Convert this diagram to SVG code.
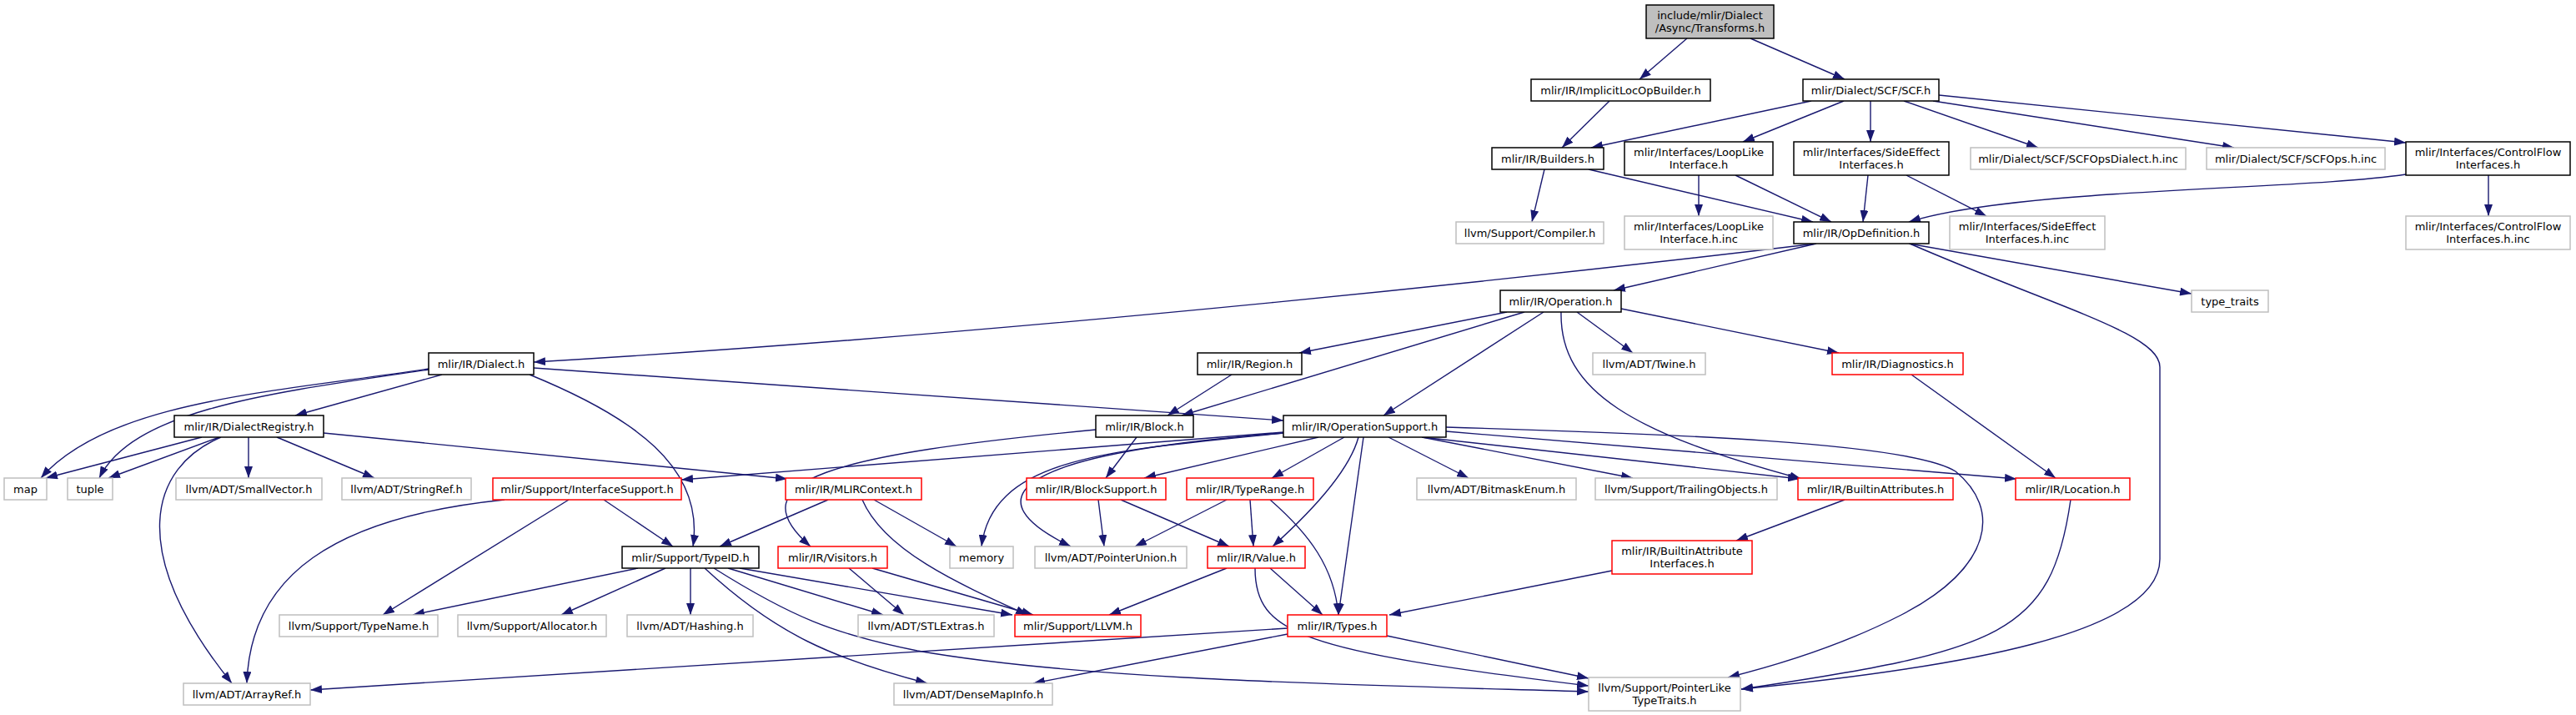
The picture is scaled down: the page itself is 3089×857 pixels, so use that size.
<svg xmlns="http://www.w3.org/2000/svg" width="3089" height="857" viewBox="0 0 3089 857">
<style>
rect{fill:#fff;stroke-width:1.5}
.k rect{stroke:#000}
.g rect{stroke:#bfbfbf}
.r rect{stroke:#ff0000}
.top rect{fill:#bfbfbf;stroke:#000}
text{font-family:"DejaVu Sans","Liberation Sans",sans-serif;font-size:13px;fill:#000;text-anchor:middle}
#edges path{fill:none;stroke:#191970;stroke-width:1.4;marker-end:url(#a)}
</style>
<defs>
<marker id="a" viewBox="0 0 14 10" refX="14" refY="5" markerWidth="14" markerHeight="10" orient="auto" markerUnits="userSpaceOnUse"><path d="M0,0 L14,5 L0,10 z" fill="#191970"/></marker>
</defs>
<rect x="0" y="0" width="3089" height="857" style="fill:#fff;stroke:none"/>
<g id="edges">
<path d="M2023,46 L1966,95"/>
<path d="M2099,46 L2212,95"/>
<path d="M1930,121 L1873,177"/>
<path d="M2172,121 L1908,177"/>
<path d="M2211,121 L2090,170"/>
<path d="M2243,121 L2243,170"/>
<path d="M2283,121 L2444,177"/>
<path d="M2318,121 L2679,177"/>
<path d="M2325,114 L2885,171"/>
<path d="M1852,203 L1837,266"/>
<path d="M1905,203 L2174,266"/>
<path d="M2037,210 L2037,259"/>
<path d="M2081,210 L2196,266"/>
<path d="M2240,210 L2234,266"/>
<path d="M2286,210 L2382,259"/>
<path d="M2885,209 C2760,228 2420,225 2289,266"/>
<path d="M2984,210 L2984,259"/>
<path d="M2178,292 L1935,348"/>
<path d="M2178,292 C1900,325 1250,398 640,434"/>
<path d="M2289,292 L2628,352"/>
<path d="M2290,292 C2470,370 2590,400 2590,440 L2590,670 C2590,760 2350,800 2088,826"/>
<path d="M1807,374 L1558,423"/>
<path d="M1828,374 L1417,498"/>
<path d="M1851,374 L1659,498"/>
<path d="M1891,374 L1958,423"/>
<path d="M1944,370 L2205,423"/>
<path d="M1872,374 C1870,470 1960,520 2160,574"/>
<path d="M1705,524 L2158,574"/>
<path d="M1734,517 L2418,574"/>
<path d="M1734,512 C2000,520 2290,530 2345,565 C2400,610 2390,680 2280,737 C2200,778 2120,800 2072,812"/>
<path d="M1705,524 L1958,573"/>
<path d="M1665,524 L1761,573"/>
<path d="M1629,524 Q1615,575 1526,655"/>
<path d="M1635,524 L1605,737"/>
<path d="M1612,524 L1525,573"/>
<path d="M1581,524 L1372,573"/>
<path d="M1539,518 L817,575"/>
<path d="M1539,519 C1330,540 1190,548 1177,655"/>
<path d="M1539,519 C1200,545 1170,600 1284,655"/>
<path d="M640,441 L1539,504"/>
<path d="M530,449 L354,498"/>
<path d="M514,442 C330,470 130,480 49,573"/>
<path d="M514,443 C330,470 160,490 119,573"/>
<path d="M635,449 C760,500 845,560 831,655"/>
<path d="M242,524 L55,573"/>
<path d="M263,524 L130,573"/>
<path d="M265,524 C180,560 150,660 278,819"/>
<path d="M298,524 L298,573"/>
<path d="M332,524 L449,573"/>
<path d="M388,519 L944,574"/>
<path d="M1477,449 L1400,498"/>
<path d="M1363,524 L1326,573"/>
<path d="M1314,515 C1000,545 880,575 972,655"/>
<path d="M605,599 C400,620 300,690 296,819"/>
<path d="M682,599 L459,737"/>
<path d="M724,599 L807,655"/>
<path d="M993,599 L863,655"/>
<path d="M1048,599 L1147,655"/>
<path d="M1034,599 C1060,660 1150,700 1232,737"/>
<path d="M1018,681 L1084,737"/>
<path d="M1046,681 L1239,737"/>
<path d="M765,681 L495,737"/>
<path d="M798,681 L673,737"/>
<path d="M828,681 L828,737"/>
<path d="M873,681 L1059,737"/>
<path d="M887,681 L1214,737"/>
<path d="M845,681 C930,760 1000,790 1112,819"/>
<path d="M856,681 C950,740 1000,760 1100,780 C1300,815 1600,820 1905,829"/>
<path d="M1317,599 L1324,655"/>
<path d="M1344,599 L1474,655"/>
<path d="M1471,599 L1361,655"/>
<path d="M1499,599 L1503,655"/>
<path d="M1523,599 C1570,640 1600,680 1605,737"/>
<path d="M1471,681 L1330,737"/>
<path d="M1523,681 L1586,737"/>
<path d="M1505,681 C1505,760 1560,780 1905,822"/>
<path d="M1933,684 L1666,737"/>
<path d="M2212,599 L2082,648"/>
<path d="M1544,753 L372,827"/>
<path d="M1544,760 L1239,819"/>
<path d="M1663,762 L1905,813"/>
<path d="M2292,449 L2465,573"/>
<path d="M2483,599 C2460,760 2400,780 2088,826"/>
</g>
<g id="n0" class="top"><rect x="1974" y="6" width="153" height="40"/><text x="2050.5" y="23">include/mlir/Dialect</text><text x="2050.5" y="38">/Async/Transforms.h</text></g>
<g id="n1" class="k"><rect x="1836" y="95" width="215" height="26"/><text x="1943.5" y="112.5">mlir/IR/ImplicitLocOpBuilder.h</text></g>
<g id="n2" class="k"><rect x="2162" y="95" width="163" height="26"/><text x="2243.5" y="112.5">mlir/Dialect/SCF/SCF.h</text></g>
<g id="n3" class="k"><rect x="1789" y="177" width="134" height="26"/><text x="1856" y="194.5">mlir/IR/Builders.h</text></g>
<g id="n4" class="k"><rect x="1948" y="170" width="178" height="40"/><text x="2037" y="187">mlir/Interfaces/LoopLike</text><text x="2037" y="202">Interface.h</text></g>
<g id="n5" class="k"><rect x="2151" y="170" width="186" height="40"/><text x="2244" y="187">mlir/Interfaces/SideEffect</text><text x="2244" y="202">Interfaces.h</text></g>
<g id="n6" class="g"><rect x="2363" y="177" width="258" height="26"/><text x="2492" y="194.5">mlir/Dialect/SCF/SCFOpsDialect.h.inc</text></g>
<g id="n7" class="g"><rect x="2646" y="177" width="214" height="26"/><text x="2753" y="194.5">mlir/Dialect/SCF/SCFOps.h.inc</text></g>
<g id="n8" class="k"><rect x="2885" y="170" width="197" height="40"/><text x="2983.5" y="187">mlir/Interfaces/ControlFlow</text><text x="2983.5" y="202">Interfaces.h</text></g>
<g id="n9" class="g"><rect x="1746" y="266" width="177" height="26"/><text x="1834.5" y="283.5">llvm/Support/Compiler.h</text></g>
<g id="n10" class="g"><rect x="1948" y="259" width="178" height="40"/><text x="2037" y="276">mlir/Interfaces/LoopLike</text><text x="2037" y="291">Interface.h.inc</text></g>
<g id="n11" class="k"><rect x="2151" y="266" width="162" height="26"/><text x="2232" y="283.5">mlir/IR/OpDefinition.h</text></g>
<g id="n12" class="g"><rect x="2338" y="259" width="186" height="40"/><text x="2431" y="276">mlir/Interfaces/SideEffect</text><text x="2431" y="291">Interfaces.h.inc</text></g>
<g id="n13" class="g"><rect x="2885" y="259" width="197" height="40"/><text x="2983.5" y="276">mlir/Interfaces/ControlFlow</text><text x="2983.5" y="291">Interfaces.h.inc</text></g>
<g id="n14" class="k"><rect x="1799" y="348" width="145" height="26"/><text x="1871.5" y="365.5">mlir/IR/Operation.h</text></g>
<g id="n15" class="g"><rect x="2628" y="348" width="92" height="26"/><text x="2674" y="365.5">type_traits</text></g>
<g id="n16" class="k"><rect x="514" y="423" width="126" height="26"/><text x="577" y="440.5">mlir/IR/Dialect.h</text></g>
<g id="n17" class="k"><rect x="1436" y="423" width="125" height="26"/><text x="1498.5" y="440.5">mlir/IR/Region.h</text></g>
<g id="n18" class="g"><rect x="1910" y="423" width="135" height="26"/><text x="1977.5" y="440.5">llvm/ADT/Twine.h</text></g>
<g id="n19" class="r"><rect x="2197" y="423" width="157" height="26"/><text x="2275.5" y="440.5">mlir/IR/Diagnostics.h</text></g>
<g id="n20" class="k"><rect x="209" y="498" width="179" height="26"/><text x="298.5" y="515.5">mlir/IR/DialectRegistry.h</text></g>
<g id="n21" class="k"><rect x="1314" y="498" width="117" height="26"/><text x="1372.5" y="515.5">mlir/IR/Block.h</text></g>
<g id="n22" class="k"><rect x="1539" y="498" width="195" height="26"/><text x="1636.5" y="515.5">mlir/IR/OperationSupport.h</text></g>
<g id="n23" class="g"><rect x="5" y="573" width="51" height="26"/><text x="30.5" y="590.5">map</text></g>
<g id="n24" class="g"><rect x="81" y="573" width="54" height="26"/><text x="108" y="590.5">tuple</text></g>
<g id="n25" class="g"><rect x="211" y="573" width="175" height="26"/><text x="298.5" y="590.5">llvm/ADT/SmallVector.h</text></g>
<g id="n26" class="g"><rect x="410" y="573" width="155" height="26"/><text x="487.5" y="590.5">llvm/ADT/StringRef.h</text></g>
<g id="n27" class="r"><rect x="591" y="573" width="226" height="26"/><text x="704" y="590.5">mlir/Support/InterfaceSupport.h</text></g>
<g id="n28" class="r"><rect x="942" y="573" width="163" height="26"/><text x="1023.5" y="590.5">mlir/IR/MLIRContext.h</text></g>
<g id="n29" class="r"><rect x="1231" y="573" width="167" height="26"/><text x="1314.5" y="590.5">mlir/IR/BlockSupport.h</text></g>
<g id="n30" class="r"><rect x="1423" y="573" width="152" height="26"/><text x="1499" y="590.5">mlir/IR/TypeRange.h</text></g>
<g id="n31" class="g"><rect x="1699" y="573" width="191" height="26"/><text x="1794.5" y="590.5">llvm/ADT/BitmaskEnum.h</text></g>
<g id="n32" class="g"><rect x="1913" y="573" width="218" height="26"/><text x="2022" y="590.5">llvm/Support/TrailingObjects.h</text></g>
<g id="n33" class="r"><rect x="2156" y="573" width="186" height="26"/><text x="2249" y="590.5">mlir/IR/BuiltinAttributes.h</text></g>
<g id="n34" class="r"><rect x="2417" y="573" width="137" height="26"/><text x="2485.5" y="590.5">mlir/IR/Location.h</text></g>
<g id="n35" class="k"><rect x="746" y="655" width="164" height="26"/><text x="828" y="672.5">mlir/Support/TypeID.h</text></g>
<g id="n36" class="r"><rect x="933" y="655" width="131" height="26"/><text x="998.5" y="672.5">mlir/IR/Visitors.h</text></g>
<g id="n37" class="g"><rect x="1139" y="655" width="76" height="26"/><text x="1177" y="672.5">memory</text></g>
<g id="n38" class="g"><rect x="1241" y="655" width="182" height="26"/><text x="1332" y="672.5">llvm/ADT/PointerUnion.h</text></g>
<g id="n39" class="r"><rect x="1448" y="655" width="117" height="26"/><text x="1506.5" y="672.5">mlir/IR/Value.h</text></g>
<g id="n40" class="r"><rect x="1933" y="648" width="168" height="40"/><text x="2017" y="665">mlir/IR/BuiltinAttribute</text><text x="2017" y="680">Interfaces.h</text></g>
<g id="n41" class="g"><rect x="335" y="737" width="190" height="26"/><text x="430" y="754.5">llvm/Support/TypeName.h</text></g>
<g id="n42" class="g"><rect x="549" y="737" width="178" height="26"/><text x="638" y="754.5">llvm/Support/Allocator.h</text></g>
<g id="n43" class="g"><rect x="752" y="737" width="151" height="26"/><text x="827.5" y="754.5">llvm/ADT/Hashing.h</text></g>
<g id="n44" class="g"><rect x="1029" y="737" width="163" height="26"/><text x="1110.5" y="754.5">llvm/ADT/STLExtras.h</text></g>
<g id="n45" class="r"><rect x="1217" y="737" width="151" height="26"/><text x="1292.5" y="754.5">mlir/Support/LLVM.h</text></g>
<g id="n46" class="r"><rect x="1544" y="737" width="119" height="26"/><text x="1603.5" y="754.5">mlir/IR/Types.h</text></g>
<g id="n47" class="g"><rect x="220" y="819" width="152" height="26"/><text x="296" y="836.5">llvm/ADT/ArrayRef.h</text></g>
<g id="n48" class="g"><rect x="1072" y="819" width="190" height="26"/><text x="1167" y="836.5">llvm/ADT/DenseMapInfo.h</text></g>
<g id="n49" class="g"><rect x="1905" y="812" width="182" height="40"/><text x="1996" y="829">llvm/Support/PointerLike</text><text x="1996" y="844">TypeTraits.h</text></g>
</svg>
